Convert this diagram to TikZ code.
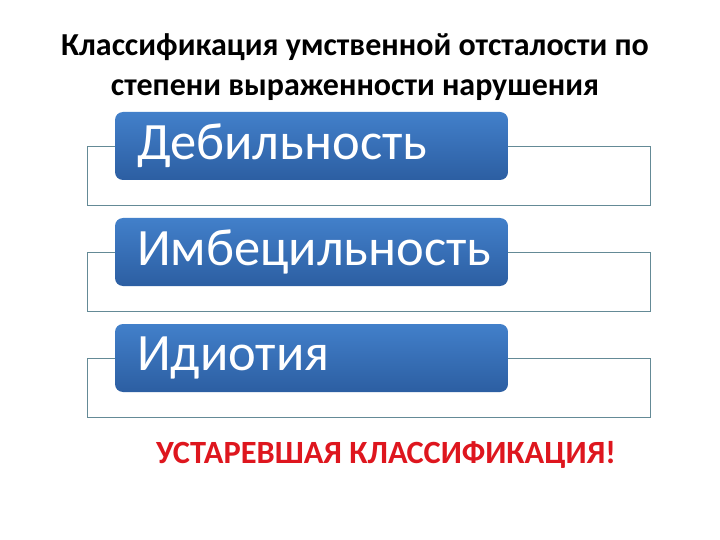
\documentclass[tikz,border=0pt]{standalone}
\usepackage{fontspec}
\setmainfont{Carlito}
\definecolor{boxtop}{RGB}{66,128,202}
\definecolor{boxbot}{RGB}{44,94,162}
\definecolor{frameline}{RGB}{100,138,150}
\definecolor{warnred}{RGB}{222,22,30}
\begin{document}
\begin{tikzpicture}[x=1pt, y=-1pt,
  frame/.style={draw=frameline, line width=0.8pt, fill=white, minimum width=563pt, minimum height=59pt, inner sep=0pt},
  level/.style={rounded corners=8pt, top color=boxtop, bottom color=boxbot, draw=none, text=white,
    minimum width=393pt, minimum height=68pt, text width=349pt, align=left, inner sep=0pt,
    font=\fontsize{52.5}{56}\selectfont},
  title/.style={font=\bfseries\fontsize{32}{40}\selectfont, align=center}]
\useasboundingbox (0,0) rectangle (720,540);
\node[title] (T) at (355,67) {Классификация умственной отсталости по\\степени выраженности нарушения};
\node[frame] (F_0) at (368.5,175.5) {};
\node[level] (L_0) at (311.5,146) {Дебильность};
\node[frame] (F_1) at (368.5,281.5) {};
\node[level] (L_1) at (311.5,252) {Имбецильность};
\node[frame] (F_2) at (368.5,387.5) {};
\node[level] (L_2) at (311.5,358) {Идиотия};
\node[font=\bfseries\fontsize{32.4}{36}\selectfont, text=warnred] (W) at (386,455) {УСТАРЕВШАЯ КЛАССИФИКАЦИЯ!};
\end{tikzpicture}
\end{document}
